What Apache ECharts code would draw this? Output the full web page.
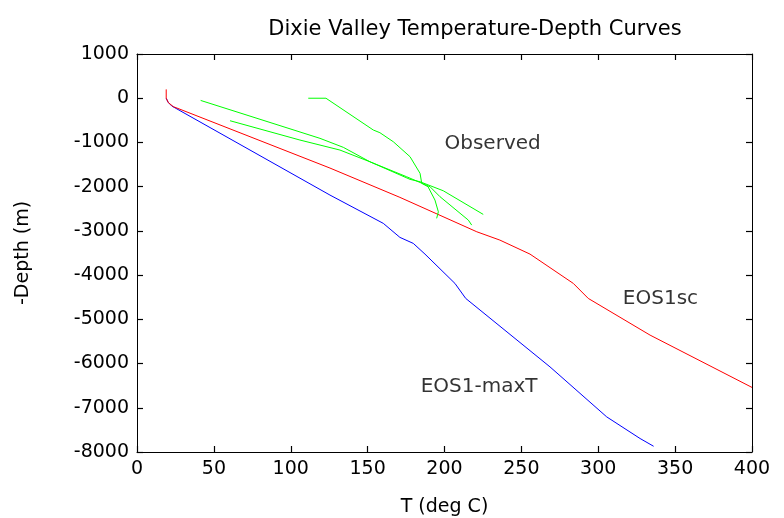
<!DOCTYPE html>
<html>
<head>
<meta charset="utf-8">
<script src="https://cdn.jsdelivr.net/npm/echarts@6/dist/echarts.min.js"></script>
<style>
  html, body { margin: 0; padding: 0; background: #fff; }
</style>
</head>
<body>
<div id="main" style="width: 784px; height: 518px"></div>
<script>
// temperature (deg C) and -depth (m)
var eos1scT = [19, 19, 20.4, 23.6, 125.5, 171, 221, 236, 255.6, 283.8, 293.5, 333.7, 400];
var eos1scDepth = [200, 0, -100, -190, -1579, -2242, -3020, -3208, -3525, -4188, -4527, -5357, -6540];

var eos1maxT = [19, 20.2, 22.6, 125.5, 160.2, 171, 179.7, 187.3, 206.8, 213.8, 268.6, 305.5, 327.2, 336];
var eos1maxDepth = [0, -90, -176, -2190, -2830, -3147, -3283, -3525, -4188, -4527, -6075, -7206, -7695, -7870];

// observed wells
var obs1T = [41.4, 119, 134.2, 151.5, 177.6, 184.1, 199.2, 225.2];
var obs1Depth = [-50, -907, -1111, -1437, -1835, -1889, -2093, -2627];

var obs2T = [60.5, 106, 132, 151.5, 175.4, 190.6, 197.1, 215.5, 217.7];
var obs2Depth = [-509, -946, -1172, -1437, -1776, -2002, -2228, -2756, -2869];

var obs3T = [111.4, 122.9, 153.7, 158, 166.7, 177.6, 184.1, 185.2, 189.3, 193.8, 196, 194.9];
var obs3Depth = [0, 0, -719, -780, -984, -1323, -1699, -1925, -2002, -2303, -2568, -2717];

// curve labels
var labelNames = ["Observed", "EOS1sc", "EOS1-maxT"];
var labelT = [200, 316, 184.5];
var labelDepth = [-1036, -4543, -6533];

function pairs(xs, ys) {
  var out = [];
  for (var i = 0; i < xs.length; i++) out.push([xs[i], ys[i]]);
  return out;
}

var myChart = echarts.init(document.getElementById("main"));
var font = "DejaVu Sans";

function lineSeries(name, xs, ys, color) {
  return {
    name: name,
    type: "line",
    data: pairs(xs, ys),
    showSymbol: false,
    animation: false,
    lineStyle: { color: color, width: 1 },
    z: 3,
  };
}

// box axes: ticks inside, plain numbers
function boxAxis(extra) {
  var base = {
    type: "value",
    axisLine: { show: true, onZero: false, lineStyle: { color: "#000", width: 1 } },
    axisTick: { show: true, inside: true, length: 6, lineStyle: { color: "#000", width: 1.2 } },
    axisLabel: {
      fontFamily: font,
      fontSize: 19,
      color: "#000",
      margin: 8,
      formatter: function (v) { return String(v); },
    },
    splitLine: { show: false },
  };
  return Object.assign(base, extra);
}

var option = {
  backgroundColor: "#fff",
  animation: false,
  title: {
    text: "Dixie Valley Temperature-Depth Curves",
    left: 470,
    textAlign: "center",
    top: 14,
    textStyle: { fontFamily: font, fontSize: 21, fontWeight: "normal", color: "#000" },
  },
  grid: { left: 137, right: 32, top: 54, bottom: 66, outerBoundsMode: "none" },
  xAxis: [
    boxAxis({
      min: 0,
      max: 400,
      interval: 50,
      name: "T (deg C)",
      nameLocation: "middle",
      nameGap: 46,
      nameTextStyle: { fontFamily: font, fontSize: 19, color: "#000" },
    }),
    boxAxis({ position: "top", min: 0, max: 400, interval: 50, axisLabel: { show: false } }),
  ],
  yAxis: [
    boxAxis({
      min: -8000,
      max: 1000,
      interval: 1000,
      name: "-Depth (m)",
      nameLocation: "middle",
      nameGap: 104,
      nameTextStyle: { fontFamily: font, fontSize: 19, color: "#000" },
    }),
    boxAxis({ position: "right", min: -8000, max: 1000, interval: 1000, axisLabel: { show: false } }),
  ],
  series: [
    lineSeries("EOS1-maxT", eos1maxT, eos1maxDepth, "#0000ff"),
    lineSeries("EOS1sc", eos1scT, eos1scDepth, "#ff0000"),
    lineSeries("Observed 1", obs1T, obs1Depth, "#00ff00"),
    lineSeries("Observed 2", obs2T, obs2Depth, "#00ff00"),
    lineSeries("Observed 3", obs3T, obs3Depth, "#00ff00"),
    {
      name: "labels",
      type: "scatter",
      symbolSize: 0,
      silent: true,
      data: pairs(labelT, labelDepth).map(function (p, i) {
        return { value: p, name: labelNames[i] };
      }),
      label: {
        show: true,
        position: "inside",
        align: "left",
        verticalAlign: "middle",
        formatter: "{b}",
        fontFamily: font,
        fontSize: 20,
        color: "#000",
      },
    },
  ],
};

myChart.setOption(option);
</script>
</body>
</html>
